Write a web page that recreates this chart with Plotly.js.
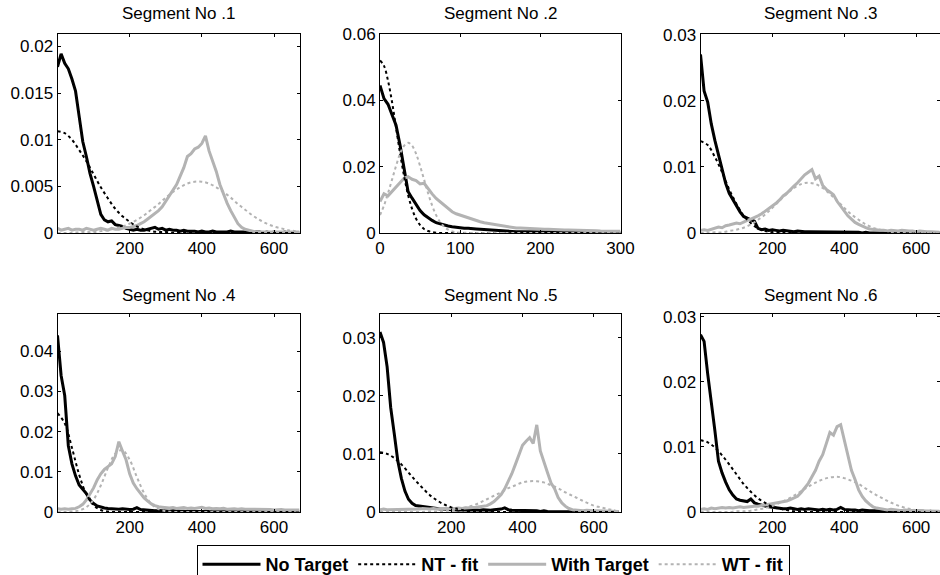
<!DOCTYPE html>
<html>
<head>
<meta charset="utf-8">
<script src="https://cdn.plot.ly/plotly-3.0.1.min.js"></script>
<style>html,body{margin:0;padding:0;background:#fff;}#chart{width:940px;height:575px;}</style>
</head>
<body>
<div id="chart"></div>
<script>
// ---------- data ----------
const seriesNames = ['No Target', 'NT - fit', 'With Target', 'WT - fit'];
const panelTitles = ['Segment No .1', 'Segment No .2', 'Segment No .3', 'Segment No .4', 'Segment No .5', 'Segment No .6'];

const xGrid = [0,10,20,30,40,50,60,70,80,90,100,110,120,130,140,150,160,170,180,190,200,210,220,230,240,250,260,270,280,290,300,310,320,330,340,350,360,370,380,390,400,410,420,430,440,450,460,470,480,490,500,510,520,530,540,550,560,570,580,590,600,610,620,630,640,650,660,670];
const xFit = [0,20,40,60,80,100,120,140,160,180,200,220,240,260,280,300,320,340,360,380,400,420,440,460,480,500,520,540,560,580,600,620,640,660];
const xGrid2 = [0,5,10,15,20,25,30,35,40,45,50,55,60,65,70,75,80,85,90,95,100,105,110,115,120,125,130,135,140,145,150,155,160,165,170,175,180,185,190,195,200,205,210,215,220,225,230,235,240,245,250,255,260,265,270,275,280,285,290,295,300];
const xFit2 = [0,5,10,15,20,25,30,35,40,45,50,55,60,65,70,75,80,85,90,95,100,120,140,160,180,200,220,240,260,280,300];

// Segment 1
const p1NoTarget = [0.0178,0.0192,0.0182,0.0176,0.0165,0.0152,0.0125,0.0098,0.0082,0.0064,
 0.0050,0.0035,0.0020,0.0014,0.0012,0.0013,0.0009,0.0008,0.0007,0.0005,
 0.0004,0.0003,0.0004,0.0003,0.0003,0.0004,0.0005,0.0006,0.0004,0.0005,
 0.0003,0.0004,0.0003,0.0003,0.0002,0.0003,0.0002,0.0002,0.0002,0.0001,
 0.0002,0.0001,0.0001,0.0002,0.0001,0.0001,0.0001,0.0001,0.0002,0.0001,
 0.0001,0.0001,0.0001,0.0001,0.0000,0.0001,0.0001,0.0000,0.0001,0.0000,
 0.0001,0.0000,0.0000,0.0001,0.0000,0.0000,0.0000,0.0000];
const p1WithTarget = [0.0005,0.0003,0.0004,0.0005,0.0003,0.0004,0.0004,0.0003,0.0005,0.0004,
 0.0003,0.0004,0.0005,0.0004,0.0003,0.0005,0.0004,0.0004,0.0005,0.0006,
 0.0006,0.0007,0.0008,0.0010,0.0012,0.0015,0.0018,0.0020,0.0024,0.0028,
 0.0034,0.0040,0.0046,0.0052,0.0061,0.0070,0.0082,0.0085,0.0090,0.0092,
 0.0096,0.0104,0.0088,0.0078,0.0066,0.0052,0.0041,0.0032,0.0024,0.0017,
 0.0010,0.0006,0.0004,0.0003,0.0002,0.0001,0.0001,0.0001,0.0001,0.0001,
 0.0001,0.0001,0.0001,0.0001,0.0001,0.0001,0.0001,0.0001];
const p1NTfit = [0.0109,0.0107,0.0100,0.0089,0.0077,0.0063,0.0049,0.0037,0.0026,0.0018,0.0012,0.0007,0.0004,0.0002,0.0001,0.0001,0,0,0,0,0,0,0,0,0,0,0,0,0,0,0,0,0,0];
const p1WTfit = [0,0,0,0.0001,0.0001,0.0001,0.0002,0.0003,0.0005,0.0007,0.0010,0.0014,0.0019,0.0025,0.0031,0.0038,0.0044,0.0049,0.0053,0.0055,0.0055,0.0053,0.0049,0.0044,0.0038,0.0031,0.0025,0.0019,0.0014,0.0010,0.0007,0.0005,0.0003,0.0002];

// Segment 2
const p2NoTarget = [0.0445,0.0405,0.0388,0.0358,0.0325,0.0265,0.0190,0.0125,0.0105,0.0088,
 0.0068,0.0055,0.0046,0.0038,0.0031,0.0027,0.0024,0.0021,0.0019,0.0017,
 0.0016,0.0014,0.0014,0.0012,0.0012,0.0011,0.0010,0.0009,0.0008,0.0007,
 0.0006,0.0006,0.0005,0.0005,0.0004,0.0004,0.0004,0.0003,0.0003,0.0003,
 0.0003,0.0002,0.0002,0.0002,0.0002,0.0002,0.0002,0.0002,0.0002,0.0002,
 0.0002,0.0001,0.0001,0.0001,0.0001,0.0001,0.0001,0.0001,0.0001,0.0001,0.0001];
const p2WithTarget = [0.0095,0.0118,0.0112,0.0125,0.0140,0.0152,0.0165,0.0170,0.0162,0.0158,
 0.0148,0.0150,0.0132,0.0118,0.0104,0.0094,0.0085,0.0074,0.0064,0.0058,
 0.0054,0.0050,0.0046,0.0040,0.0036,0.0034,0.0031,0.0029,0.0026,0.0023,
 0.0021,0.0020,0.0018,0.0016,0.0015,0.0015,0.0014,0.0013,0.0013,0.0012,
 0.0012,0.0011,0.0011,0.0010,0.0010,0.0010,0.0009,0.0009,0.0009,0.0008,
 0.0008,0.0008,0.0007,0.0007,0.0007,0.0006,0.0006,0.0006,0.0005,0.0005,0.0005];
const p2NTfit = [0.0520,0.0504,0.0459,0.0395,0.0318,0.0241,0.0172,0.0115,0.0073,0.0043,0.0024,0.0012,0.0006,0.0003,0.0001,0,0,0,0,0,0,0,0,0,0,0,0,0,0,0,0];
const p2WTfit = [0.0054,0.0083,0.0120,0.0161,0.0202,0.0239,0.0263,0.0272,0.0263,0.0239,0.0202,0.0161,0.0120,0.0083,0.0054,0.0033,0.0019,0.0010,0.0005,0.0002,0.0001,0,0,0,0,0,0,0,0,0,0];

// Segment 3
const p3NoTarget = [0.0270,0.0215,0.0198,0.0165,0.0140,0.0118,0.0100,0.0075,0.0060,0.0050,
 0.0040,0.0032,0.0025,0.0022,0.0020,0.0018,0.0007,0.0005,0.0006,0.0004,
 0.0005,0.0004,0.0003,0.0004,0.0003,0.0003,0.0002,0.0003,0.0002,0.0002,
 0.0002,0.0002,0.0001,0.0002,0.0001,0.0001,0.0002,0.0001,0.0001,0.0001,
 0.0001,0.0001,0.0001,0.0001,0.0001,0.0000,0.0001,0.0000,0.0000,0.0001,
 0,0,0,0,0,0,0,0,0,0,0,0,0,0,0,0,0,0];
const p3WithTarget = [0.0004,0.0005,0.0004,0.0006,0.0007,0.0009,0.0008,0.0011,0.0012,0.0013,
 0.0015,0.0014,0.0017,0.0019,0.0021,0.0023,0.0026,0.0029,0.0033,0.0036,
 0.0040,0.0045,0.0050,0.0056,0.0060,0.0066,0.0071,0.0076,0.0082,0.0088,
 0.0092,0.0096,0.0082,0.0086,0.0072,0.0066,0.0062,0.0058,0.0048,0.0040,
 0.0032,0.0026,0.0021,0.0016,0.0013,0.0010,0.0008,0.0006,0.0005,0.0005,
 0.0004,0.0004,0.0003,0.0004,0.0003,0.0003,0.0004,0.0003,0.0003,0.0003,
 0.0002,0.0003,0.0002,0.0002,0.0002,0.0002,0.0002,0.0001];
const p3NTfit = [0.0139,0.0133,0.0115,0.0092,0.0066,0.0044,0.0026,0.0015,0.0007,0.0003,0.0001,0,0,0,0,0,0,0,0,0,0,0,0,0,0,0,0,0,0,0,0,0,0,0];
const p3WTfit = [0,0,0.0001,0.0001,0.0003,0.0005,0.0008,0.0013,0.0020,0.0028,0.0038,0.0049,0.0059,0.0068,0.0074,0.0076,0.0074,0.0068,0.0059,0.0049,0.0038,0.0028,0.0020,0.0013,0.0008,0.0005,0.0003,0.0001,0.0001,0,0,0,0,0];

// Segment 4
const p4NoTarget = [0.0440,0.0340,0.0290,0.0165,0.0120,0.0090,0.0067,0.0057,0.0046,0.0030,
 0.0021,0.0015,0.0012,0.0010,0.0009,0.0008,0.0008,0.0007,0.0008,0.0007,
 0.0006,0.0007,0.0011,0.0006,0.0005,0.0004,0.0004,0.0003,0.0004,0.0003,
 0.0003,0.0002,0.0003,0.0002,0.0002,0.0002,0.0001,0.0002,0.0001,0.0001,
 0.0001,0.0002,0.0001,0.0001,0.0001,0.0001,0.0001,0.0001,0.0000,0.0001,
 0.0001,0.0000,0.0001,0.0000,0.0000,0.0001,0,0,0,0,0,0,0,0,0,0,0,0];
const p4WithTarget = [0.0008,0.0007,0.0008,0.0007,0.0008,0.0009,0.0013,0.0019,0.0030,0.0045,
 0.0060,0.0080,0.0095,0.0106,0.0112,0.0120,0.0138,0.0175,0.0152,0.0130,
 0.0095,0.0072,0.0058,0.0046,0.0035,0.0027,0.0020,0.0016,0.0013,0.0012,
 0.0011,0.0010,0.0011,0.0009,0.0010,0.0011,0.0009,0.0010,0.0009,0.0010,
 0.0012,0.0009,0.0010,0.0008,0.0009,0.0008,0.0009,0.0007,0.0008,0.0008,
 0.0007,0.0008,0.0007,0.0007,0.0006,0.0007,0.0006,0.0006,0.0007,0.0006,
 0.0005,0.0006,0.0006,0.0005,0.0005,0.0006,0.0005,0.0005];
const p4NTfit = [0.0246,0.0221,0.0160,0.0093,0.0044,0.0017,0.0005,0.0001,0,0,0,0,0,0,0,0,0,0,0,0,0,0,0,0,0,0,0,0,0,0,0,0,0,0];
const p4WTfit = [0,0,0.0001,0.0004,0.0012,0.0031,0.0066,0.0110,0.0145,0.0154,0.0130,0.0087,0.0047,0.0020,0.0007,0.0002,0,0,0,0,0,0,0,0,0,0,0,0,0,0,0,0,0,0];

// Segment 5
const p5NoTarget = [0.0310,0.0292,0.0250,0.0180,0.0135,0.0088,0.0058,0.0036,0.0022,0.0015,
 0.0011,0.0010,0.0009,0.0008,0.0007,0.0006,0.0006,0.0005,0.0005,0.0004,
 0.0004,0.0004,0.0003,0.0004,0.0003,0.0003,0.0004,0.0003,0.0003,0.0004,
 0.0003,0.0003,0.0004,0.0004,0.0005,0.0007,0.0004,0.0003,0.0003,0.0002,
 0.0003,0.0002,0.0002,0.0002,0.0002,0.0001,0.0002,0.0001,0.0001,0.0001,
 0.0001,0.0001,0.0001,0.0001,0.0001,0.0001,0.0001,0.0001,0.0001,0.0001,
 0.0001,0.0001,0.0000,0.0001,0.0000,0.0000,0.0000,0.0000];
const p5WithTarget = [0.0004,0.0005,0.0004,0.0004,0.0005,0.0004,0.0005,0.0004,0.0005,0.0005,
 0.0004,0.0005,0.0006,0.0005,0.0005,0.0006,0.0005,0.0006,0.0006,0.0005,
 0.0006,0.0006,0.0007,0.0006,0.0007,0.0007,0.0008,0.0008,0.0009,0.0010,
 0.0011,0.0014,0.0018,0.0024,0.0030,0.0040,0.0052,0.0066,0.0082,0.0098,
 0.0115,0.0122,0.0128,0.0118,0.0150,0.0105,0.0088,0.0068,0.0050,0.0040,
 0.0025,0.0016,0.0010,0.0006,0.0004,0.0003,0.0003,0.0002,0.0003,0.0002,
 0.0002,0.0002,0.0002,0.0001,0.0002,0.0001,0.0001,0.0001];
const p5NTfit = [0.0103,0.0100,0.0093,0.0082,0.0068,0.0054,0.0041,0.0029,0.0020,0.0013,0.0008,0.0005,0.0002,0.0001,0.0001,0,0,0,0,0,0,0,0,0,0,0,0,0,0,0,0,0,0,0];
const p5WTfit = [0,0,0,0,0,0,0,0.0001,0.0001,0.0002,0.0003,0.0005,0.0008,0.0011,0.0016,0.0022,0.0028,0.0034,0.0041,0.0046,0.0051,0.0053,0.0053,0.0051,0.0046,0.0041,0.0034,0.0028,0.0022,0.0016,0.0011,0.0008,0.0005,0.0003];

// Segment 6
const p6NoTarget = [0.0272,0.0262,0.0212,0.0172,0.0125,0.0078,0.0060,0.0046,0.0034,0.0026,
 0.0020,0.0018,0.0017,0.0016,0.0020,0.0014,0.0012,0.0010,0.0009,0.0008,
 0.0007,0.0006,0.0006,0.0005,0.0005,0.0006,0.0005,0.0004,0.0005,0.0004,
 0.0005,0.0004,0.0004,0.0003,0.0004,0.0003,0.0004,0.0003,0.0004,0.0007,
 0.0004,0.0003,0.0003,0.0003,0.0002,0.0003,0.0002,0.0002,0.0002,0.0002,
 0.0002,0.0001,0.0002,0.0001,0.0001,0.0001,0.0001,0.0001,0.0001,0.0001,
 0.0001,0.0001,0.0001,0.0000,0.0001,0.0000,0.0000,0.0000];
const p6WithTarget = [0.0004,0.0005,0.0004,0.0006,0.0005,0.0006,0.0007,0.0006,0.0007,0.0006,
 0.0007,0.0008,0.0007,0.0008,0.0008,0.0009,0.0009,0.0010,0.0010,0.0011,
 0.0012,0.0013,0.0014,0.0015,0.0017,0.0019,0.0021,0.0024,0.0030,0.0037,
 0.0044,0.0054,0.0064,0.0078,0.0088,0.0105,0.0122,0.0118,0.0131,0.0134,
 0.0110,0.0086,0.0064,0.0050,0.0034,0.0024,0.0017,0.0012,0.0008,0.0006,
 0.0005,0.0004,0.0003,0.0004,0.0003,0.0003,0.0002,0.0003,0.0002,0.0002,
 0.0002,0.0002,0.0001,0.0002,0.0001,0.0001,0.0001,0.0001];
const p6NTfit = [0.0110,0.0107,0.0099,0.0087,0.0073,0.0058,0.0043,0.0031,0.0021,0.0014,0.0008,0.0005,0.0003,0.0001,0.0001,0,0,0,0,0,0,0,0,0,0,0,0,0,0,0,0,0,0,0];
const p6WTfit = [0,0,0,0,0,0.0001,0.0001,0.0002,0.0004,0.0006,0.0009,0.0014,0.0019,0.0025,0.0032,0.0039,0.0045,0.0050,0.0053,0.0054,0.0052,0.0048,0.0043,0.0036,0.0029,0.0023,0.0017,0.0012,0.0008,0.0005,0.0003,0.0002,0.0001,0.0001];

// tick labels
const xTicksLong = [200, 400, 600];
const xTicksSeg2 = [0, 100, 200, 300];
const yTicks1 = [0, 0.005, 0.01, 0.015, 0.02];
const yTickText1 = ['0', '0.005', '0.01', '0.015', '0.02'];
const yTicks2 = [0, 0.02, 0.04, 0.06];
const yTickText2 = ['0', '0.02', '0.04', '0.06'];
const yTicks3 = [0, 0.01, 0.02, 0.03];
const yTickText3 = ['0', '0.01', '0.02', '0.03'];
const yTicks4 = [0, 0.01, 0.02, 0.03, 0.04];
const yTickText4 = ['0', '0.01', '0.02', '0.03', '0.04'];

// ---------- build ----------
const panels = [
  {nt: p1NoTarget, wt: p1WithTarget, ntf: p1NTfit, wtf: p1WTfit, x: xGrid, xf: xFit, xt: xTicksLong, yt: yTicks1, ytt: yTickText1},
  {nt: p2NoTarget, wt: p2WithTarget, ntf: p2NTfit, wtf: p2WTfit, x: xGrid2, xf: xFit2, xt: xTicksSeg2, yt: yTicks2, ytt: yTickText2},
  {nt: p3NoTarget, wt: p3WithTarget, ntf: p3NTfit, wtf: p3WTfit, x: xGrid, xf: xFit, xt: xTicksLong, yt: yTicks3, ytt: yTickText3},
  {nt: p4NoTarget, wt: p4WithTarget, ntf: p4NTfit, wtf: p4WTfit, x: xGrid, xf: xFit, xt: xTicksLong, yt: yTicks4, ytt: yTickText4},
  {nt: p5NoTarget, wt: p5WithTarget, ntf: p5NTfit, wtf: p5WTfit, x: xGrid, xf: xFit, xt: xTicksLong, yt: yTicks3, ytt: yTickText3},
  {nt: p6NoTarget, wt: p6WithTarget, ntf: p6NTfit, wtf: p6WTfit, x: xGrid, xf: xFit, xt: xTicksLong, yt: yTicks3, ytt: yTickText3}
];

const W = 940, H = 575;
const colL = [[57.5, 300], [380, 620.5], [700.5, 939.5]];
const rowT = [[34, 233], [314, 512]];
const xRanges = [[0, 672], [0, 300], [0, 665], [0, 672], [0, 675], [0, 665]];
const yRanges = [[0, 0.02133], [0, 0.06], [0, 0.0301], [0, 0.0493], [0, 0.0341], [0, 0.0304]];

const BLACK = '#000000', GRAY = '#b3b3b3';
const FONT = 'Liberation Sans, Arial, sans-serif';

const traces = [];
const layout = {
  width: W, height: H,
  margin: {l: 0, r: 0, t: 0, b: 0, autoexpand: false},
  paper_bgcolor: '#ffffff', plot_bgcolor: '#ffffff',
  font: {family: FONT, size: 17, color: '#000'},
  showlegend: true,
  legend: {
    orientation: 'h', x: 493 / W, xanchor: 'center', y: 1 - 545 / H, yanchor: 'top',
    bordercolor: '#000', borderwidth: 1, bgcolor: '#fff',
    font: {family: FONT, size: 18, weight: 'bold', color: '#000'},
    traceorder: 'normal', itemwidth: 58
  },
  annotations: []
};

panels.forEach((p, i) => {
  const r = Math.floor(i / 3), c = i % 3;
  const sfx = i === 0 ? '' : String(i + 1);
  const xa = 'x' + sfx, ya = 'y' + sfx;
  const first = i === 0;
  traces.push({x: p.x, y: p.nt, xaxis: xa, yaxis: ya, type: 'scatter', mode: 'lines', name: seriesNames[0], legendrank: 1, showlegend: first, legendgroup: 'a', line: {color: BLACK, width: 3}});
  traces.push({x: p.x, y: p.wt, xaxis: xa, yaxis: ya, type: 'scatter', mode: 'lines', name: seriesNames[2], legendrank: 3, showlegend: first, legendgroup: 'c', line: {color: GRAY, width: 3}});
  traces.push({x: p.xf, y: p.ntf, xaxis: xa, yaxis: ya, type: 'scatter', mode: 'lines', name: seriesNames[1], legendrank: 2, showlegend: first, legendgroup: 'b', line: {color: BLACK, width: 2, dash: 'dot', shape: 'spline'}});
  traces.push({x: p.xf, y: p.wtf, xaxis: xa, yaxis: ya, type: 'scatter', mode: 'lines', name: seriesNames[3], legendrank: 4, showlegend: first, legendgroup: 'd', line: {color: GRAY, width: 2, dash: 'dot', shape: 'spline'}});

  const axCommon = {showline: true, linecolor: '#000', linewidth: 1, mirror: 'allticks', ticks: 'inside', ticklen: 3, tickcolor: '#000', showgrid: false, zeroline: false, tickfont: {family: FONT, size: 17, color: '#000'}, fixedrange: true};
  layout['xaxis' + sfx] = Object.assign({}, axCommon, {
    anchor: ya, domain: [colL[c][0] / W, colL[c][1] / W], range: xRanges[i],
    tickmode: 'array', tickvals: p.xt, ticktext: p.xt.map(String)
  });
  layout['yaxis' + sfx] = Object.assign({}, axCommon, {
    anchor: xa, domain: [1 - rowT[r][1] / H, 1 - rowT[r][0] / H], range: yRanges[i],
    tickmode: 'array', tickvals: p.yt, ticktext: p.ytt
  });
  layout.annotations.push({
    text: panelTitles[i], xref: 'paper', yref: 'paper', showarrow: false,
    x: (colL[c][0] + colL[c][1]) / 2 / W, y: 1 - (r === 0 ? 14 : 295) / H,
    xanchor: 'center', yanchor: 'middle', font: {family: FONT, size: 17, color: '#000'}
  });
});

Plotly.newPlot('chart', traces, layout, {staticPlot: true, displayModeBar: false});
</script>
</body>
</html>
